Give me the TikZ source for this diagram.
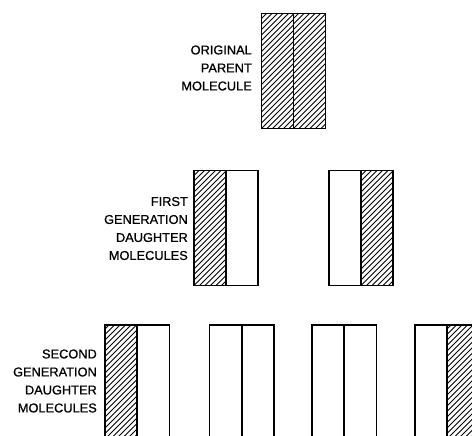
\documentclass[tikz,border=0pt]{standalone}
\usepackage{fontspec}
\setmainfont{Liberation Sans}
\newfontfamily\lblfont[FakeBold=0.8]{Liberation Sans}
\begin{document}
\begin{tikzpicture}[x=1pt,y=-1pt,
  strand/.style={draw=black, line width=1.2pt, rectangle, inner sep=0pt,
    minimum width=32pt, minimum height=115pt, fill=white},
  strandlow/.style={strand, minimum height=125pt},
  hatch/.style={line width=1pt},
  hatched/.style={path picture={
    \foreach \i in {-30,...,8}{
      \draw[hatch] ([xshift=\i*5.5pt]path picture bounding box.south west) -- ++(160pt,160pt);
    }}},
  lbl/.style={anchor=east, align=right, inner sep=0pt,
    font=\lblfont\fontsize{12.8}{18}\selectfont}
]
\useasboundingbox (0,0) rectangle (472,436);

% original parent molecule
\node[strand, hatched] (p1) at (277.5,71) {};
\node[strand, hatched] (p2) at (309.5,71) {};
\node[lbl] (lp) at (252,68) {ORIGINAL\\PARENT\\MOLECULE};

% first generation
\node[strand, hatched] (f1) at (210,228) {};
\node[strand] (f2) at (242,228) {};
\node[strand] (f3) at (345,228) {};
\node[strand, hatched] (f4) at (377,228) {};
\node[lbl] (lf) at (188,228.5) {FIRST\\GENERATION\\DAUGHTER\\MOLECULES};

% second generation
\node[strandlow, hatched] (s1) at (121,387.5) {};
\node[strandlow] (s2) at (153.5,387.5) {};
\node[strandlow] (s3) at (225.5,387.5) {};
\node[strandlow] (s4) at (258,387.5) {};
\node[strandlow] (s5) at (328,387.5) {};
\node[strandlow] (s6) at (360.5,387.5) {};
\node[strandlow] (s7) at (431,387.5) {};
\node[strandlow, hatched] (s8) at (463,387.5) {};
\node[lbl] (ls) at (97,381) {SECOND\\GENERATION\\DAUGHTER\\MOLECULES};
\end{tikzpicture}
\end{document}
